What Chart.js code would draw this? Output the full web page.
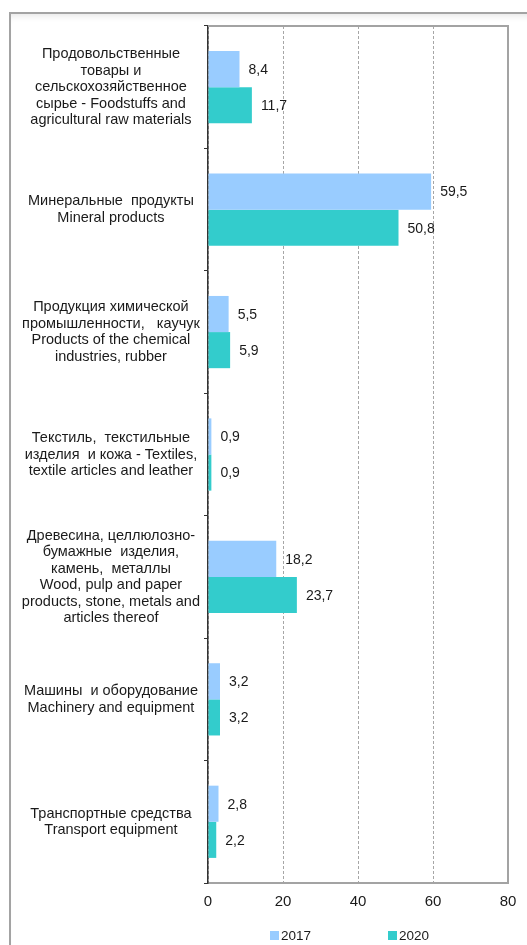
<!DOCTYPE html>
<html>
<head>
<meta charset="utf-8">
<script src="https://cdn.jsdelivr.net/npm/chart.js@4.4.1/dist/chart.umd.min.js"></script>
<style>
  html, body { margin: 0; padding: 0; background: #fff; }
  #wrap { position: relative; width: 527px; height: 945px; overflow: hidden; }
  /* page frame behind the chart */
  #frame {
    position: absolute; left: 9px; top: 12px; width: 600px; height: 1000px;
    border-left: 2px solid #a3a3a3; border-top: 2px solid #a3a3a3;
    box-shadow: inset 0 7px 7px -5px rgba(0, 0, 0, 0.10);
  }
  #chart { position: absolute; left: 0; top: 0; }
  #legend {
    position: absolute; top: 928px; left: 0; width: 527px; height: 14px;
    font: 13.5px "Liberation Sans", Arial, sans-serif; color: #1a1a1a;
  }
  #legend span.item { position: absolute; top: 0; display: flex; align-items: center; }
  #legend span.box { display: inline-block; width: 9px; height: 9px; margin-right: 2px; }
</style>
</head>
<body>
<div id="wrap">
  <div id="frame"></div>
  <canvas id="chart" width="527" height="945"></canvas>
  <div id="legend"></div>
</div>
<script>
const categories = [
  ['Продовольственные', 'товары и', 'сельскохозяйственное', 'сырье - Foodstuffs and', 'agricultural raw materials'],
  ['Минеральные  продукты', 'Mineral products'],
  ['Продукция химической', 'промышленности,   каучук', 'Products of the chemical', 'industries, rubber'],
  ['Текстиль,  текстильные', 'изделия  и кожа - Textiles,', 'textile articles and leather'],
  ['Древесина, целлюлозно-', 'бумажные  изделия,', 'камень,  металлы', 'Wood, pulp and paper', 'products, stone, metals and', 'articles thereof'],
  ['Машины  и оборудование', 'Machinery and equipment'],
  ['Транспортные средства', 'Transport equipment']
];
const years = ['2017', '2020'];
const values2017 = [8.4, 59.5, 5.5, 0.9, 18.2, 3.2, 2.8];
const values2020 = [11.7, 50.8, 5.9, 0.9, 23.7, 3.2, 2.2];
const xTicks = [0, 20, 40, 60, 80];

const colors = ['#99ccff', '#33cccc'];
const font = '"Liberation Sans", Arial, sans-serif';
const textColor = '#1a1a1a';

// value labels to the right of each bar, decimal comma
const barValues = {
  id: 'barValues',
  afterDatasetsDraw(chart) {
    const ctx = chart.ctx;
    ctx.save();
    ctx.font = '14px ' + font;
    ctx.fillStyle = textColor;
    ctx.textAlign = 'left';
    ctx.textBaseline = 'middle';
    chart.data.datasets.forEach((ds, i) => {
      chart.getDatasetMeta(i).data.forEach((bar, j) => {
        const txt = ds.data[j].toFixed(1).replace('.', ',');
        ctx.fillText(txt, bar.x + 9, bar.y + 1);
      });
    });
    ctx.restore();
  }
};

// solid top and right edges of the plot box
const plotFrame = {
  id: 'plotFrame',
  beforeDatasetsDraw(chart) {
    const {ctx, chartArea: a} = chart;
    ctx.save();
    ctx.strokeStyle = '#a3a3a3';
    ctx.lineWidth = 2;
    ctx.beginPath();
    ctx.moveTo(a.left, a.top);
    ctx.lineTo(a.right, a.top);
    ctx.lineTo(a.right, a.bottom);
    ctx.stroke();
    ctx.restore();
  }
};

const chart = new Chart(document.getElementById('chart'), {
  type: 'bar',
  data: {
    labels: categories,
    datasets: [
      { label: years[0], data: values2017, backgroundColor: colors[0] },
      { label: years[1], data: values2020, backgroundColor: colors[1] }
    ]
  },
  options: {
    indexAxis: 'y',
    responsive: false,
    animation: false,
    layout: { padding: { left: 0, top: 26, right: 19, bottom: 32 } },
    datasets: { bar: { categoryPercentage: 0.59, barPercentage: 1 } },
    scales: {
      x: {
        min: xTicks[0],
        max: xTicks[xTicks.length - 1],
        afterBuildTicks: (s) => { s.ticks = xTicks.map(v => ({ value: v })); },
        afterFit: (s) => { s.height = 30; },
        grid: { color: '#a6a6a6', lineWidth: 1, drawTicks: false },
        border: { color: '#a3a3a3', width: 2, dash: [3, 2] },
        ticks: { padding: 10, color: textColor, font: { family: font, size: 15 } }
      },
      y: {
        afterFit: (s) => { s.width = 208; },
        grid: { drawOnChartArea: false, drawTicks: true, tickLength: 4, color: '#333' },
        border: { color: '#333', width: 1.5 },
        ticks: {
          crossAlign: 'center',
          padding: 4,
          color: textColor,
          font: { family: font, size: 14.5, lineHeight: 1.14 }
        }
      }
    },
    plugins: {
      legend: { display: false },
      tooltip: { enabled: false }
    }
  },
  plugins: [plotFrame, barValues]
});

// legend under the axis
const legend = document.getElementById('legend');
const legendX = [270, 388];
chart.data.datasets.forEach((ds, i) => {
  const item = document.createElement('span');
  item.className = 'item';
  item.style.left = legendX[i] + 'px';
  item.innerHTML = '<span class="box" style="background:' + ds.backgroundColor + '"></span>' + ds.label;
  legend.appendChild(item);
});
</script>
</body>
</html>
